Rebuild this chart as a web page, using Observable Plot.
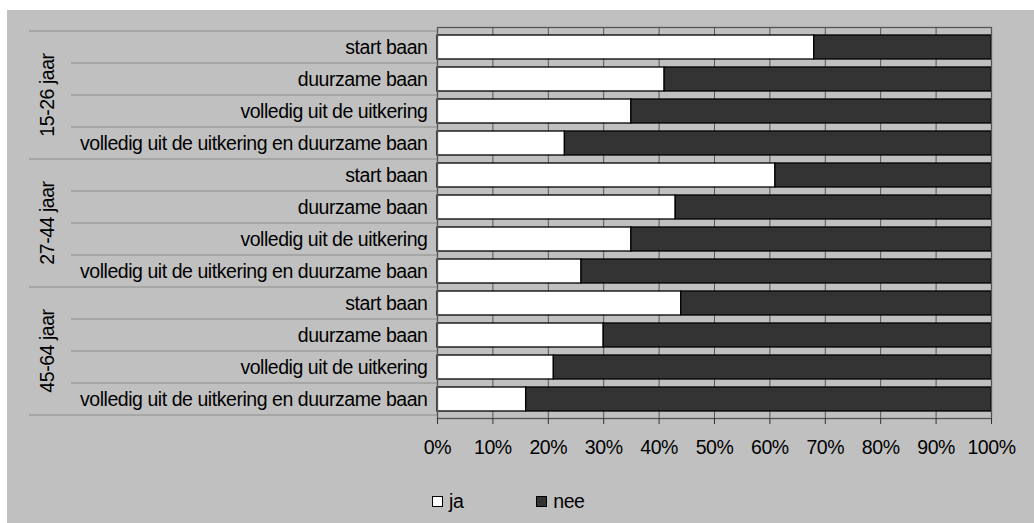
<!DOCTYPE html>
<html>
<head>
<meta charset="utf-8">
<script src="https://cdn.jsdelivr.net/npm/d3@7"></script>
<script src="https://cdn.jsdelivr.net/npm/@observablehq/plot@0.6"></script>
<style>
  html, body { margin: 0; padding: 0; background: #ffffff; }
  #wrap {
    position: absolute; left: 7px; top: 10px; width: 1027px; height: 513px;
    background: #c0c0c0; font-family: "Liberation Sans", Arial, sans-serif;
  }
  #legend {
    position: absolute; left: 425px; top: 480px; display: flex; align-items: center;
    font-size: 19.5px; letter-spacing: -0.45px; color: #000;
  }
  .item { display: flex; align-items: center; margin-right: 73px; }
  .sw { width: 9px; height: 9px; border: 1px solid #000; margin-right: 6px; }
</style>
</head>
<body>
<div id="wrap"><div id="chart"></div><div id="legend"></div></div>
<script>
const groups = ["15-26 jaar", "27-44 jaar", "45-64 jaar"];
const measures = [
  "start baan",
  "duurzame baan",
  "volledig uit de uitkering",
  "volledig uit de uitkering en duurzame baan"
];
const answers = ["ja", "nee"];
const colors = ["#ffffff", "#333333"];
// per group, per measure (in % of respondents)
const jaValues = [
  [68, 41, 35, 23],
  [61, 43, 35, 26],
  [44, 30, 21, 16]
];
const neeValues = [
  [32, 59, 65, 77],
  [39, 57, 65, 74],
  [56, 70, 79, 84]
];
const xTicks = [0, 10, 20, 30, 40, 50, 60, 70, 80, 90, 100];

const keyOf = (g, m) => g + "|" + m;
const keys = groups.flatMap(g => measures.map(m => keyOf(g, m)));
const data = [];
groups.forEach((g, gi) => measures.forEach((m, mi) => {
  data.push({key: keyOf(g, m), group: g, measure: m, answer: "ja", value: jaValues[gi][mi]});
  data.push({key: keyOf(g, m), group: g, measure: m, answer: "nee", value: neeValues[gi][mi]});
}));

function decorations(index, scales, values, dimensions) {
  const y = scales.y;
  const step = y.step();
  const L = dimensions.marginLeft;
  const g = d3.create("svg:g");
  groups.forEach((grp) => {
    measures.forEach((m, mi) => {
      const yy = y(keyOf(grp, m));
      g.append("line")
        .attr("x1", mi === 0 ? L - 408 : L - 366).attr("x2", L)
        .attr("y1", yy).attr("y2", yy)
        .attr("stroke", "#8c8c8c").attr("stroke-width", 1.2);
    });
    const y0 = y(keyOf(grp, measures[0]));
    const y1 = y(keyOf(grp, measures[measures.length - 1])) + step;
    const cx = 40, cy = (y0 + y1) / 2;
    g.append("text")
      .attr("transform", `translate(${cx},${cy}) rotate(-90)`)
      .attr("text-anchor", "middle").attr("dominant-baseline", "central")
      .attr("fill", "#000").attr("font-size", "19.5px").attr("letter-spacing", "-0.45px")
      .text(grp);
  });
  const yb = y(keyOf(groups[groups.length - 1], measures[measures.length - 1])) + step;
  g.append("line").attr("x1", L - 408).attr("x2", L).attr("y1", yb).attr("y2", yb)
    .attr("stroke", "#8c8c8c").attr("stroke-width", 1.2);
  return g.node();
}

const chart = Plot.plot({
  width: 1027,
  height: 470,
  marginLeft: 430,
  marginRight: 43,
  marginTop: 17,
  marginBottom: 62,
  style: {background: "transparent", fontFamily: "'Liberation Sans', Arial, sans-serif", fontSize: "19.5px", letterSpacing: "-0.45px", color: "#000"},
  x: {domain: [0, 100], label: null},
  y: {domain: keys, padding: 0, label: null},
  color: {domain: answers, range: colors},
  marks: [
    Plot.gridX(xTicks, {stroke: "#555", strokeOpacity: 1}),
    Plot.barX(data, Plot.stackX({
      x: "value", y: "key", fill: "answer", order: answers,
      stroke: "#000", strokeWidth: 1.3, insetTop: 4, insetBottom: 4
    })),
    Plot.frame({stroke: "#555", strokeWidth: 1.3}),
    Plot.axisX({ticks: xTicks, tickFormat: d => d + "%", tickSize: 6, tickPadding: 16, stroke: "#333", label: null}),
    Plot.axisY({tickSize: 0, tickPadding: 10, tickFormat: d => d.split("|")[1], label: null}),
    decorations
  ]
});
document.getElementById("chart").appendChild(chart);

const legend = document.getElementById("legend");
answers.forEach((a, i) => {
  const item = document.createElement("div");
  item.className = "item";
  const sw = document.createElement("span");
  sw.className = "sw";
  sw.style.background = colors[i];
  const t = document.createElement("span");
  t.textContent = a;
  item.appendChild(sw); item.appendChild(t);
  legend.appendChild(item);
});
</script>
</body>
</html>
